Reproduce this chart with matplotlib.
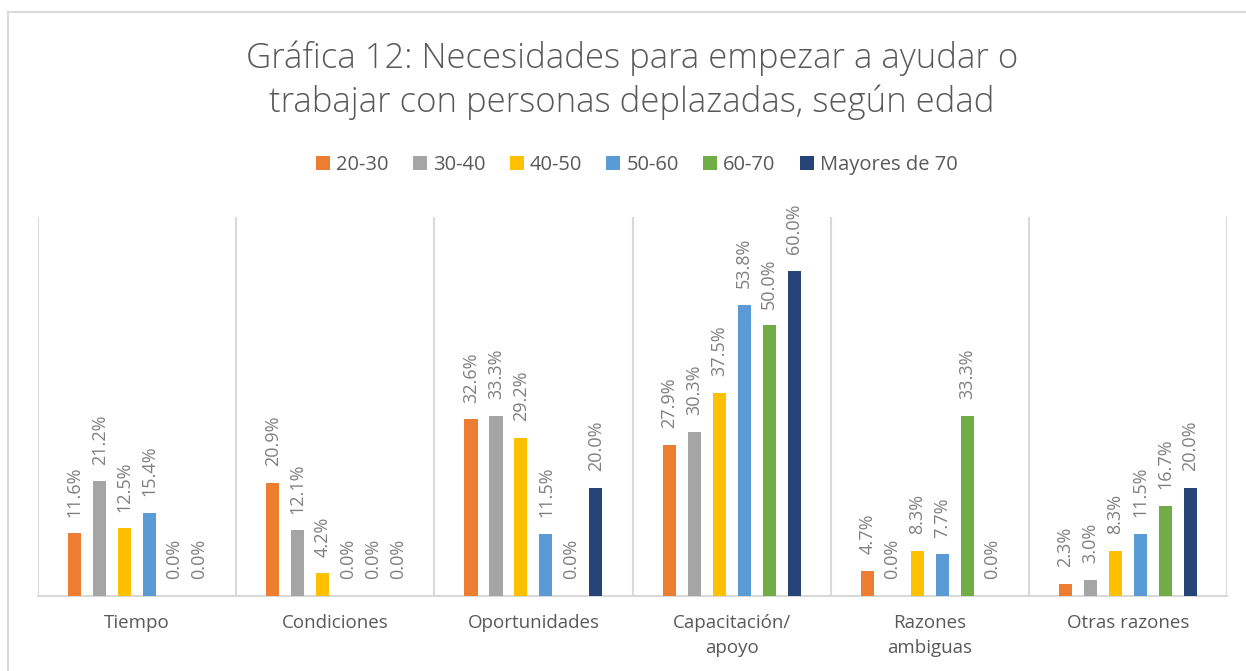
import numpy as np
import matplotlib
matplotlib.use("Agg")
import matplotlib.pyplot as plt
from matplotlib.patches import Patch
from matplotlib.lines import Line2D

plt.rcParams['font.family'] = ['Open Sans', 'DejaVu Sans']

categorias = ["Tiempo", "Condiciones", "Oportunidades", "Capacitación/\napoyo",
              "Razones\nambiguas", "Otras razones"]
grupos = ["20-30", "30-40", "40-50", "50-60", "60-70", "Mayores de 70"]
edad_20_30 = [11.6, 20.9, 32.6, 27.9, 4.7, 2.3]
edad_30_40 = [21.2, 12.1, 33.3, 30.3, 0.0, 3.0]
edad_40_50 = [12.5, 4.2, 29.2, 37.5, 8.3, 8.3]
edad_50_60 = [15.4, 0.0, 11.5, 53.8, 7.7, 11.5]
edad_60_70 = [0.0, 0.0, 0.0, 50.0, 33.3, 16.7]
mayores_70 = [0.0, 0.0, 20.0, 60.0, 0.0, 20.0]
series = [edad_20_30, edad_30_40, edad_40_50, edad_50_60, edad_60_70, mayores_70]
colores = ['#ED7D31', '#A5A5A5', '#FFC000', '#5B9BD5', '#70AD47', '#264478']

gris = '#595959'
linea = '#D9D9D9'

fig = plt.figure(figsize=(12.46, 6.71), dpi=100)
ax = fig.add_axes([0.0305, 0.1118, 0.9543, 0.5648])

x = np.arange(len(categorias))
paso = 0.126
ancho = 0.066
for i, (vals, col) in enumerate(zip(series, colores)):
    pos = x + (i - 2.5) * paso
    ax.bar(pos, vals, width=ancho, color=col, zorder=3)
    for px, v in zip(pos, vals):
        ax.annotate("%.1f%%" % v, (px, v), xytext=(0, 12), textcoords='offset points',
                    rotation=90, ha='center', va='bottom', fontsize=13, color='#7F7F7F')

ax.set_xlim(-0.5, len(categorias) - 0.5)
ax.set_ylim(0, 70)
ax.set_yticks([])
ax.set_xticks(x)
ax.set_xticklabels(categorias, fontsize=13.5, color=gris, linespacing=1.5)
ax.tick_params(axis='x', length=0, pad=13)
for b in np.arange(-0.5, len(categorias), 1.0):
    ax.axvline(b, color=linea, lw=1.5, zorder=1)
for s in ['top', 'right', 'left']:
    ax.spines[s].set_visible(False)
ax.spines['bottom'].set_color(linea)
ax.spines['bottom'].set_linewidth(1.5)

fig.text(0.507, 0.880, "Gráfica 12: Necesidades para empezar a ayudar o\ntrabajar con personas deplazadas, según edad",
         ha='center', va='center', fontsize=25, color=gris, linespacing=1.3,
         fontweight='light')

handles = [Patch(facecolor=c, edgecolor='none') for c in colores]
fig.legend(handles, grupos, loc='center', bbox_to_anchor=(0.511, 0.754), ncol=6,
           frameon=False, fontsize=14.5, handlelength=0.7, handleheight=0.7,
           handletextpad=0.3, columnspacing=1.2, labelcolor=gris)

# borde del grafico
fig.add_artist(Line2D([8 / 1246, 8 / 1246], [0, 1 - 12 / 671], color=linea, lw=1.5,
                      transform=fig.transFigure))
fig.add_artist(Line2D([8 / 1246, 1], [1 - 12 / 671, 1 - 12 / 671], color=linea, lw=1.5,
                      transform=fig.transFigure))

plt.savefig('out.png', dpi=100)
